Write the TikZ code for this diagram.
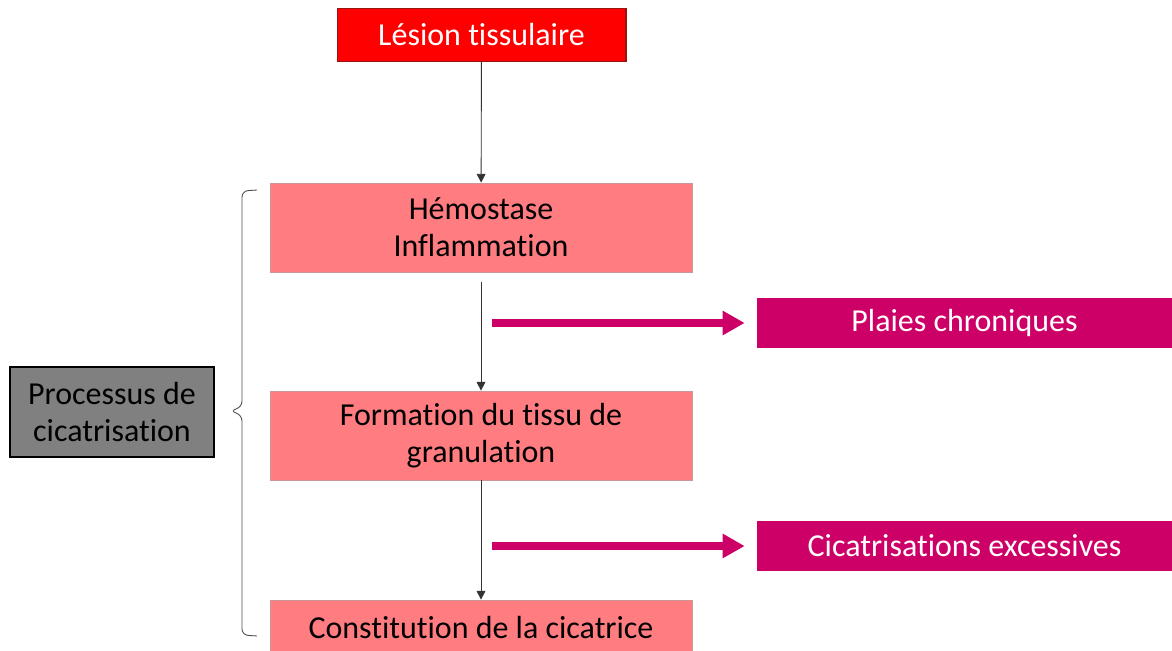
\documentclass[tikz,border=0pt]{standalone}
\usepackage{fontspec}
\setmainfont{Carlito}[Ligatures=NoCommon]
\usetikzlibrary{arrows.meta}

\definecolor{lesred}{RGB}{255,0,0}
\definecolor{lesborder}{RGB}{150,20,20}
\definecolor{phasepink}{RGB}{255,124,128}
\definecolor{phaseborder}{RGB}{205,150,150}
\definecolor{compmag}{RGB}{204,0,102}
\definecolor{procgray}{RGB}{128,128,128}

\begin{document}
\begin{tikzpicture}[x=0.02cm,y=-0.02cm,
    txt/.style={font=\fontsize{18.2}{21.2}\selectfont, align=center, inner sep=0pt},
    lesbox/.style={txt, fill=lesred, draw=lesborder, line width=0.6pt, text=white, minimum width=5.78cm, minimum height=1.06cm},
    phasebox/.style={txt, fill=phasepink, draw=phaseborder, line width=0.4pt, minimum width=8.44cm, minimum height=1.78cm},
    compbox/.style={txt, fill=compmag, text=white, minimum width=8.3cm, minimum height=1.0cm},
    procbox/.style={txt, fill=procgray, draw=black, line width=1pt, minimum width=4.08cm, minimum height=1.8cm},
    flow/.style={-{Triangle[length=5pt,width=5pt]}, line width=0.5pt, draw=black!80},
    bigarrow/.style={-{Triangle[length=0.44cm,width=0.46cm]}, line width=4pt, draw=compmag}]
  \useasboundingbox (0,0) rectangle (1172,651);
  \node[lesbox] (lesion) at (481.5,35) {Lésion tissulaire};
  \node[phasebox] (hemo) at (481,227.5) {Hémostase\\Inflammation};
  \node[phasebox] (granu) at (481,435.5) {Formation du tissu de\\granulation};
  \node[phasebox, minimum height=1.12cm] (cicat) at (481,628) {Constitution de la cicatrice};
  \node[compbox] (chron) at (964.5,323) {Plaies chroniques};
  \node[compbox] (exces) at (964.5,546) {Cicatrisations excessives};
  \node[procbox] (proc) at (112,412) {Processus de\\cicatrisation};
  \coordinate (m1) at (492,323);
  \coordinate (m2) at (492,546);
  \draw[flow] (lesion) -- (hemo);
  \draw[flow, shorten <=0.2cm] (hemo) -- (granu);
  \draw[flow] (granu) -- (cicat);
  \draw[bigarrow, shorten >=0.24cm] (m1) -- (chron);
  \draw[bigarrow, shorten >=0.24cm] (m2) -- (exces);
  \draw[black!70, line width=0.5pt, rounded corners=0.12cm] (257,190) -- (242,191) -- (242,407) -- (230,411) -- (242,415) -- (242,635) -- (257,636);
\end{tikzpicture}
\end{document}
